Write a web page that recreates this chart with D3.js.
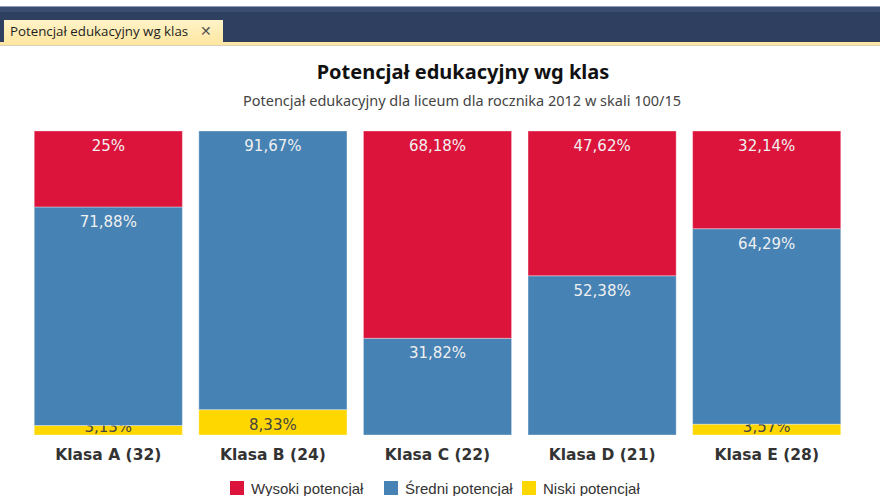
<!DOCTYPE html>
<html>
<head>
<meta charset="utf-8">
<script src="https://cdn.jsdelivr.net/npm/d3@7"></script>
<style>
  body { margin: 0; background: #fff; }
  svg { display: block; }
</style>
</head>
<body>
<svg id="container"></svg>
<script>
const categories = ["Klasa A (32)", "Klasa B (24)", "Klasa C (22)", "Klasa D (21)", "Klasa E (28)"];
const wysoki = [25, 0, 68.18, 47.62, 32.14];
const sredni = [71.88, 91.67, 31.82, 52.38, 64.29];
const niski = [3.13, 8.33, 0, 0, 3.57];
const seriesNames = ["Wysoki potencjał", "Średni potencjał", "Niski potencjał"];

let width = 880;
let height = 496;
let plotTop = 131;
let plotBottom = 435;
let plotLeft = 26;
let plotRight = 849;

const colors = { niski: "#FFD700", sredni: "#4682B4", wysoki: "#DC143C" };
const labelColors = { niski: "#444", sredni: "#f0f0f0", wysoki: "#f0f0f0" };

const svg = d3.select("#container").attr("width", width).attr("height", height);

// header band with the tab
const defs = svg.append("defs");
const tabGrad = defs.append("linearGradient").attr("id", "tabGrad").attr("x1", 0).attr("x2", 0).attr("y1", 0).attr("y2", 1);
tabGrad.append("stop").attr("offset", "0%").attr("stop-color", "#fff3c8");
tabGrad.append("stop").attr("offset", "100%").attr("stop-color", "#ffe6a0");

svg.append("rect").attr("x", 0).attr("y", 6).attr("width", width).attr("height", 36).attr("fill", "#2e3f5f");
svg.append("rect").attr("x", 0).attr("y", 6).attr("width", width).attr("height", 1).attr("fill", "#8f9cb5");
svg.append("rect").attr("x", 0).attr("y", 7).attr("width", width).attr("height", 5).attr("fill", "#3a4d70");
svg.append("rect").attr("x", 0).attr("y", 42).attr("width", width).attr("height", 3).attr("fill", "#fde7a6");
svg.append("rect").attr("x", 0).attr("y", 45).attr("width", width).attr("height", 1).attr("fill", "#d8d2b8");
svg.append("rect").attr("x", 4).attr("y", 20).attr("width", 219).attr("height", 25).attr("fill", "url(#tabGrad)");
svg.append("text")
  .attr("x", 10).attr("y", 36)
  .style("font", "13.3px 'Open Sans', sans-serif")
  .attr("fill", "#1e1e1e")
  .text("Potencjał edukacyjny wg klas");
svg.append("text")
  .attr("x", 200).attr("y", 36)
  .style("font", "14px 'DejaVu Sans', sans-serif")
  .attr("fill", "#555")
  .text("✕");

// titles
svg.append("text")
  .attr("x", 463).attr("y", 79)
  .attr("text-anchor", "middle")
  .style("font", "bold 20px 'Noto Sans', sans-serif")
  .attr("fill", "#111")
  .text("Potencjał edukacyjny wg klas");
svg.append("text")
  .attr("x", 462).attr("y", 106)
  .attr("text-anchor", "middle")
  .style("font", "14.5px 'Noto Sans', sans-serif")
  .attr("fill", "#444")
  .text("Potencjał edukacyjny dla liceum dla rocznika 2012 w skali 100/15");

const data = categories.map((c, i) => ({ name: c, niski: niski[i], sredni: sredni[i], wysoki: wysoki[i] }));
const keys = ["niski", "sredni", "wysoki"];
const stacked = d3.stack().keys(keys)(data);

const xScale = d3.scaleBand()
  .domain(categories)
  .range([plotLeft, plotRight])
  .paddingInner(0.1)
  .paddingOuter(0.05);

const yScale = d3.scaleLinear()
  .domain([0, 100])
  .range([plotBottom, plotTop]);

const fmt = (v) => String(v).replace(".", ",") + "%";

const layers = svg.selectAll(".layer")
  .data(stacked)
  .join("g")
  .attr("class", "layer");

layers.selectAll("rect")
  .data((s) => s.map((d) => ({ key: s.key, d })))
  .join("rect")
  .filter((e) => e.d[1] - e.d[0] > 0)
  .attr("x", (e) => xScale(e.d.data.name))
  .attr("width", xScale.bandwidth())
  .attr("y", (e) => yScale(e.d[1]))
  .attr("height", (e) => yScale(e.d[0]) - yScale(e.d[1]))
  .attr("fill", (e) => colors[e.key])
  .attr("stroke", "rgba(255,255,255,0.35)")
  .attr("stroke-width", 1);

layers.selectAll("text")
  .data((s) => s.map((d) => ({ key: s.key, d })).filter((e) => e.d[1] - e.d[0] > 0))
  .join("text")
  .attr("x", (e) => xScale(e.d.data.name) + xScale.bandwidth() / 2)
  .attr("y", (e) => Math.min(yScale(e.d[1]) + 20, yScale(e.d[0]) - 3))
  .attr("text-anchor", "middle")
  .style("font", "15px 'DejaVu Sans', sans-serif")
  .attr("fill", (e) => labelColors[e.key])
  .text((e) => fmt(e.d.data[e.key]));

const xAxis = d3.axisBottom(xScale).tickSize(0).tickPadding(14);
const gx = svg.append("g")
  .attr("transform", `translate(0, ${plotBottom})`)
  .call(xAxis);
gx.select(".domain").remove();
gx.selectAll("text")
  .style("font", "bold 15.5px 'DejaVu Sans', sans-serif")
  .attr("fill", "#333");

// legend
const legendX = [230, 384, 522];
const legend = svg.selectAll(".legend")
  .data(keys.slice().reverse())
  .join("g")
  .attr("class", "legend")
  .attr("transform", (d, i) => `translate(${legendX[i]}, 481)`);
legend.append("rect")
  .attr("width", 14).attr("height", 14)
  .attr("fill", (d) => colors[d]);
legend.append("text")
  .attr("x", 21).attr("y", 13)
  .style("font", "15px 'Liberation Sans', Arial, sans-serif")
  .attr("fill", "#333")
  .text((d, i) => seriesNames[i]);
</script>
</body>
</html>
